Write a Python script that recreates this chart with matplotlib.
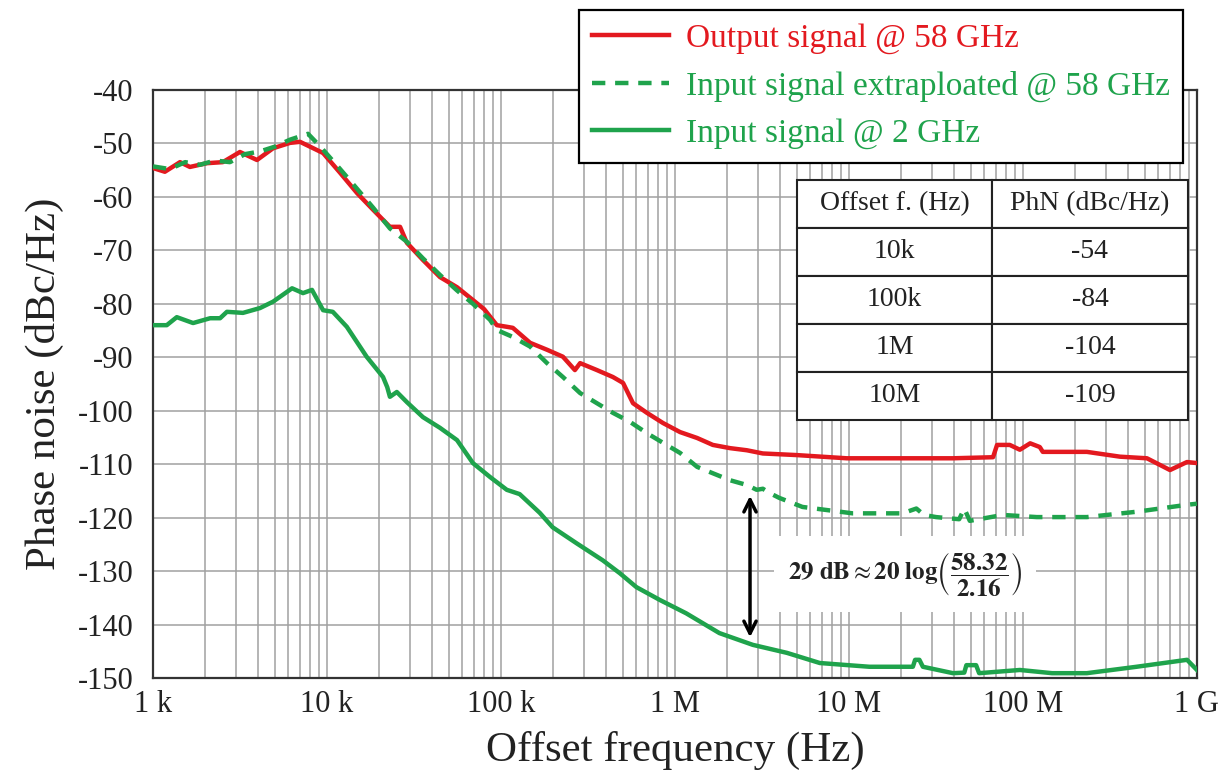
import matplotlib
matplotlib.use("Agg")
import matplotlib.pyplot as plt
from matplotlib.ticker import LogLocator, NullFormatter

plt.rcParams['font.family'] = ['Liberation Serif', 'DejaVu Serif']
plt.rcParams['mathtext.fontset'] = 'stix'
plt.rcParams['axes.unicode_minus'] = False

# output signal @ 58 GHz (Hz, dBc/Hz)
out_f = [1.0e3, 1.17e3, 1.43e3, 1.63e3, 2.04e3, 2.52e3, 3.16e3, 3.96e3, 4.9e3, 6.13e3,
         7.0e3, 7.98e3, 9.5e3, 11.9e3, 14.9e3, 18.4e3, 23e3, 26.3e3, 28.8e3, 35.6e3,
         44.6e3, 55.9e3, 69e3, 80e3, 94.7e3, 108e3, 117e3, 147e3, 184e3, 227e3,
         266e3, 285e3, 356e3, 440e3, 503e3, 574e3, 690e3, 853e3, 1.07e6, 1.34e6,
         1.65e6, 2.07e6, 2.59e6, 3.2e6, 5.0e6, 9.7e6, 16.5e6, 39.6e6, 67.3e6, 71e6,
         84e6, 96e6, 110e6, 125e6, 130e6, 233e6, 361e6, 516e6, 700e6, 877e6, 1.0e9]
out_db = [-54.6, -55.3, -53.5, -54.4, -53.7, -53.5, -51.6, -53.1, -50.9, -49.9,
          -49.7, -50.6, -51.8, -55.5, -59.3, -62.4, -65.6, -65.6, -68.6, -71.8,
          -75.0, -76.9, -79.3, -81.0, -84.0, -84.3, -84.5, -87.3, -88.6, -89.9,
          -92.4, -91.1, -92.4, -93.7, -94.8, -98.6, -100.4, -102.3, -104.0, -105.1,
          -106.4, -107.0, -107.4, -108.0, -108.3, -108.9, -108.9, -108.9, -108.7, -106.4,
          -106.4, -107.3, -106.1, -106.8, -107.7, -107.7, -108.6, -108.9, -111.1, -109.6, -109.8]

# input signal extrapolated @ 58 GHz
ext_f = [1.0e3, 1.25e3, 1.53e3, 1.86e3, 2.27e3, 2.77e3, 3.38e3, 4.12e3, 5.02e3, 6.13e3,
         7.28e3, 7.78e3, 9.1e3, 11.9e3, 14.9e3, 18.4e3, 23e3, 28.8e3, 35.6e3, 44.6e3,
         55.9e3, 69e3, 86.5e3, 94.7e3, 117e3, 147e3, 184e3, 227e3, 285e3, 356e3,
         440e3, 552e3, 690e3, 853e3, 1.07e6, 1.34e6, 1.65e6, 2.07e6, 2.59e6, 2.95e6,
         3.2e6, 3.5e6, 3.97e6, 5.4e6, 10.5e6, 20.3e6, 24.4e6, 27e6, 31.7e6, 43e6,
         46e6, 49.5e6, 76.7e6, 120e6, 233e6, 450e6, 877e6, 1.0e9]
ext_db = [-54.3, -54.8, -53.5, -54.0, -53.2, -53.5, -52.0, -51.5, -50.6, -49.3,
          -48.5, -48.2, -50.5, -54.8, -58.5, -62.0, -65.9, -68.4, -71.5, -74.6,
          -77.5, -80.0, -83.0, -84.9, -86.2, -88.0, -91.1, -93.7, -96.7, -98.6,
          -100.4, -102.1, -104.2, -106.0, -107.9, -110.5, -111.7, -113.0, -113.9, -114.8,
          -114.6, -115.4, -116.3, -118.0, -119.2, -119.2, -118.3, -119.5, -119.9, -120.3,
          -118.3, -120.6, -119.5, -119.9, -119.9, -118.9, -117.6, -117.4]

# input signal @ 2 GHz
in_f = [1.0e3, 1.2e3, 1.37e3, 1.7e3, 2.13e3, 2.43e3, 2.66e3, 3.29e3, 4.12e3, 4.9e3,
        6.3e3, 7.28e3, 8.2e3, 9.5e3, 10.8e3, 13.0e3, 16.9e3, 21e3, 22.2e3, 23e3,
        25.2e3, 28.8e3, 35.6e3, 44.6e3, 55.9e3, 69e3, 86.5e3, 108e3, 128e3, 167e3,
        198e3, 272e3, 385e3, 482e3, 600e3, 818e3, 1.16e6, 1.8e6, 2.8e6, 4.4e6,
        6.8e6, 13.1e6, 23.3e6, 24e6, 25.4e6, 26.6e6, 39.6e6, 46e6, 47.3e6, 53.8e6,
        56e6, 96e6, 147e6, 233e6, 450e6, 877e6, 1.0e9]
in_db = [-84.0, -84.0, -82.5, -83.6, -82.7, -82.7, -81.5, -81.7, -80.8, -79.6,
         -77.1, -78.0, -77.4, -81.2, -81.5, -84.3, -89.9, -93.7, -95.6, -97.4,
         -96.5, -98.4, -101.2, -103.2, -105.5, -109.8, -112.4, -114.8, -115.6, -119.1,
         -121.8, -124.8, -128.0, -130.4, -133.0, -135.4, -137.9, -141.6, -143.8, -145.3,
         -147.2, -147.9, -147.9, -146.6, -146.6, -147.9, -149.1, -149.0, -147.6, -147.6,
         -149.1, -148.5, -149.1, -149.1, -147.9, -146.6, -148.5]

table_rows = [["Offset f. (Hz)", "PhN (dBc/Hz)"],
              ["10k", "-54"],
              ["100k", "-84"],
              ["1M", "-104"],
              ["10M", "-109"]]

x_ticks = [1e3, 1e4, 1e5, 1e6, 1e7, 1e8, 1e9]
x_labels = ["1 k", "10 k", "100 k", "1 M", "10 M", "100 M", "1 G"]
y_ticks = list(range(-150, -39, 10))

red = "#e3191f"
green = "#1fa34c"

fig = plt.figure(figsize=(12.2, 7.81), dpi=100)
ax = fig.add_axes([0.1254, 0.1319, 0.8557, 0.7529])

l1, = ax.plot(out_f, out_db, color=red, lw=3.2, zorder=3, label="Output signal @ 58 GHz")
l2, = ax.plot(ext_f, ext_db, color=green, lw=3.2, dashes=(3, 2.2), zorder=3,
              label="Input signal extraploated @ 58 GHz")
l3, = ax.plot(in_f, in_db, color=green, lw=3.2, zorder=3, label="Input signal @ 2 GHz")

ax.set_xscale("log")
ax.set_xlim(1e3, 1e9)
ax.set_ylim(-150, -40)
ax.set_xticks(x_ticks, x_labels)
ax.xaxis.set_minor_locator(LogLocator(base=10, subs=range(2, 10), numticks=20))
ax.xaxis.set_minor_formatter(NullFormatter())
ax.set_yticks(y_ticks)
ax.tick_params(axis="both", which="both", length=0, labelsize=22, colors="#222222")
ax.tick_params(axis="y", pad=14)
ax.tick_params(axis="x", pad=9)
ax.grid(True, which="major", color="#a0a0a0", lw=1.1, zorder=0)
ax.grid(True, which="minor", axis="x", color="#a0a0a0", lw=1.1, zorder=0)
ax.set_axisbelow(True)
for s in ax.spines.values():
    s.set_color("#333333")
    s.set_linewidth(1.6)

ax.set_xlabel("Offset frequency (Hz)", fontsize=31, color="#222222", labelpad=8)
ax.set_ylabel("Phase noise (dBc/Hz)", fontsize=31, color="#222222", labelpad=10)

# 29 dB gap arrow + formula
ax.annotate("", xy=(2.7e6, -115.4), xytext=(2.7e6, -142.9),
            arrowprops=dict(arrowstyle="<->", color="black", lw=2.5, mutation_scale=22),
            zorder=4)
ax.text(2.1e7, -130.6,
        r"$\mathbf{29\ dB} \approx \mathbf{20\ log}\left(\dfrac{\mathbf{58.32}}{\mathbf{2.16}}\right)$",
        fontsize=18, ha="center", va="center", color="#222222", zorder=4,
        bbox=dict(facecolor="white", edgecolor="none", pad=10))

# inset table
tab = ax.table(cellText=table_rows, cellLoc="center",
               bbox=[0.617, 0.439, 0.374, 0.408], zorder=5)
tab.auto_set_font_size(False)
tab.set_fontsize(20)
for cell in tab.get_celld().values():
    cell.set_edgecolor("#222222")
    cell.set_linewidth(1.5)
    cell.set_facecolor("white")
    cell.get_text().set_color("#222222")

leg = fig.legend(handles=[l1, l2, l3], loc="upper right",
                 bbox_to_anchor=(1183 / 1220, 1 - 10 / 781), borderaxespad=0,
                 fontsize=24, frameon=True, fancybox=False, framealpha=1,
                 edgecolor="black", handlelength=2.3, labelspacing=0.5,
                 borderpad=0.4, handletextpad=0.5)
leg.get_frame().set_linewidth(1.6)
for txt, c in zip(leg.get_texts(), [red, green, green]):
    txt.set_color(c)

fig.savefig("out.png", dpi=100)
